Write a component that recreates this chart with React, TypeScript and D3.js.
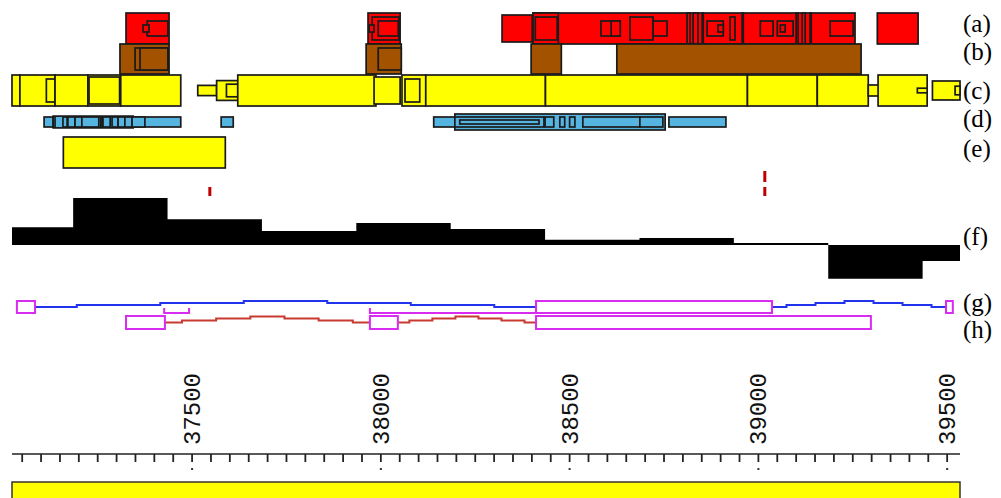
import React from "react";
import * as d3 from "d3";

// ---------- data (genomic coordinates) ----------
const DOMAIN: [number, number] = [37023, 39534];

// [start, end, nesting depth]
const TRACK_A: [number, number, number][] = [
  [37325, 37439, 0], [37381, 37436, 2], [37370, 37386, 3],
  [37966, 38051, 0], [37977, 38048, 1], [37993, 38046, 2], [37969, 37982, 3],
  [38321, 38401, 0.5],
  [38403, 39256, 0], [38403, 38470, 0], [38409, 38467, 1],
  [38583, 38634, 2], [38610, 38634, 2], [38660, 38721, 1], [38721, 38758, 2],
  [38811, 38819, 0], [38827, 38840, 0], [38851, 38854, 0],
  [38864, 38907, 2], [38893, 38907, 3], [38925, 38938, 1], [38957, 38960, 0],
  [39005, 39039, 2], [39050, 39092, 2], [39058, 39071, 3],
  [39100, 39105, 0], [39116, 39124, 0], [39137, 39140, 0], [39190, 39251, 2],
  [39315, 39423, 0],
];

const TRACK_B: [number, number, number][] = [
  [37309, 37439, 0], [37349, 37436, 1], [37362, 37436, 1],
  [37961, 38054, 0], [37993, 38054, 1],
  [38398, 38478, 0],
  [38625, 39272, 0],
];

const TRACK_C: [number, number, number][] = [
  [37023, 37044, 0], [37044, 37137, 0], [37114, 37137, 1], [37137, 37224, 0],
  [37224, 37311, 0], [37227, 37308, 0.5], [37311, 37470, 0],
  [37515, 37565, 2.6], [37565, 37621, 1.4], [37591, 37621, 2.3],
  [37621, 37987, 0], [37982, 38051, 0.5],
  [38056, 38119, 0], [38064, 38103, 1],
  [38119, 38436, 0], [38436, 38971, 0], [38971, 39156, 0], [39156, 39291, 0],
  [39291, 39341, 2.5], [39317, 39447, 0], [39421, 39447, 3.3],
  [39461, 39534, 1.5], [39521, 39534, 2.8],
];

const TRACK_D: [number, number, number][] = [
  [37108, 37470, 1], [37132, 37344, 0.7], [37132, 37137, 1],
  [37158, 37169, 1], [37171, 37190, 1], [37190, 37208, 1], [37208, 37253, 1],
  [37253, 37258, 1], [37259, 37264, 1], [37264, 37283, 1], [37288, 37304, 1],
  [37304, 37322, 1], [37322, 37341, 1], [37341, 37375, 1],
  [37577, 37609, 1],
  [38140, 38220, 1],
  [38196, 38753, 0], [38196, 38432, 1], [38209, 38419, 2],
  [38435, 38458, 1], [38474, 38487, 1], [38500, 38514, 1],
  [38535, 38686, 1], [38686, 38747, 1],
  [38763, 38914, 1],
];

const TRACK_E: [number, number, number][] = [[37159, 37588, 0]];

const MARKER_POS = [37547, 39017];
const MARKER_ROWS = [[1], [0, 1]];

const F_EDGES = [37023, 37185, 37435, 37685, 37935, 38185, 38435, 38685, 38935, 39185, 39435, 39534];
const F_VALUES = [0.38, 1.0, 0.55, 0.30, 0.47, 0.34, 0.11, 0.15, 0.04, -0.72, -0.34];

const G_EXONS: [number, number][] = [[37036, 37084], [38411, 39036], [39497, 39515]];
const G_BRACKETS: [number, number, boolean][] = [[37426, 37492, true], [37971, 38411, false]];
const H_EXONS: [number, number][] = [[37325, 37428], [37971, 38045], [38411, 39298]];

const MAJOR_TICKS = [37500, 38000, 38500, 39000, 39500];
const MINOR_STEP = 50;

const TRACK_LABELS = ["(a)", "(b)", "(c)", "(d)", "(e)", "(f)", "(g)", "(h)"];

// ---------- layout ----------
const W = 1001;
const H = 498;
const x = d3.scaleLinear().domain(DOMAIN).range([12, 960]);
const fY = d3.scaleLinear().domain([-1, 1]).range([292, 198]);

const OUTLINE = "#1a1a1a";

type Track = { data: [number, number, number][]; y0: number; y1: number; step: number; fill: string };

const TRACKS: Track[] = [
  { data: TRACK_A, y0: 13, y1: 44, step: 4, fill: "#ff0000" },
  { data: TRACK_B, y0: 44, y1: 74, step: 4, fill: "#a35200" },
  { data: TRACK_C, y0: 75, y1: 106, step: 4, fill: "#ffff00" },
  { data: TRACK_D, y0: 114, y1: 130, step: 3, fill: "#56b4e0" },
  { data: TRACK_E, y0: 137, y1: 168, step: 4, fill: "#ffff00" },
];

const LABEL_Y = [32, 60, 99, 127, 157, 245, 311, 338];

function intronPath(a: number, b: number, yc: number): string {
  const n = 6;
  const pts: [number, number][] = d3.range(n + 1).map((i) => {
    const t = i / n;
    const h = 6 * (1 - Math.abs(2 * t - 1));
    return [x(a) + (x(b) - x(a)) * t, yc - h];
  });
  return d3.line().curve(d3.curveStep)(pts) || "";
}

export default function App() {
  const stepArea = d3
    .area<number>()
    .x((_, i) => x(F_EDGES[i]))
    .y0(fY(0))
    .y1((v) => fY(v))
    .curve(d3.curveStepAfter);
  const fData = [...F_VALUES, F_VALUES[F_VALUES.length - 1]];

  const minorTicks = d3.range(37050, DOMAIN[1], MINOR_STEP);

  const gY0 = 301, gY1 = 313;
  const hY0 = 316, hY1 = 329;

  return (
    <svg
      width={W}
      height={H}
      style={{ position: "absolute", left: 0, top: 0, display: "block", background: "#fff" }}
    >
      {TRACKS.map((t, ti) => (
        <g key={ti}>
          {t.data.map(([s, e, d], i) => {
            const inset = d * t.step;
            return (
              <rect
                key={i}
                x={x(s)}
                y={t.y0 + inset}
                width={Math.max(1, x(e) - x(s))}
                height={t.y1 - t.y0 - 2 * inset}
                fill={t.fill}
                stroke={OUTLINE}
                strokeWidth={1.7}
              />
            );
          })}
        </g>
      ))}

      {MARKER_POS.map((p, i) =>
        MARKER_ROWS[i].map((r) => (
          <rect key={`${i}-${r}`} x={x(p) - 1.5} y={r === 0 ? 171 : 187} width={3} height={r === 0 ? 11 : 9} fill="#c00000" />
        ))
      )}

      <path d={stepArea(fData) || ""} fill="#000" />

      {/* gene g */}
      {G_EXONS.slice(0, -1).map((ex, i) => (
        <path key={`gi${i}`} d={intronPath(ex[1], G_EXONS[i + 1][0], (gY0 + gY1) / 2)} fill="none" stroke="#2233ee" strokeWidth={2} />
      ))}
      {G_BRACKETS.map(([s, e, both], i) => (
        <path
          key={`gb${i}`}
          d={`M${x(s)},${gY1 - 5}V${gY1}H${x(e)}${both ? `V${gY1 - 5}` : ""}`}
          fill="none"
          stroke="#d82cf0"
          strokeWidth={2}
        />
      ))}
      {G_EXONS.map(([s, e], i) => (
        <rect key={`ge${i}`} x={x(s)} y={gY0} width={x(e) - x(s)} height={gY1 - gY0} fill="#fff" stroke="#d82cf0" strokeWidth={2} />
      ))}

      {/* gene h */}
      {H_EXONS.slice(0, -1).map((ex, i) => (
        <path key={`hi${i}`} d={intronPath(ex[1], H_EXONS[i + 1][0], (hY0 + hY1) / 2)} fill="none" stroke="#c83a30" strokeWidth={2} />
      ))}
      {H_EXONS.map(([s, e], i) => (
        <rect key={`he${i}`} x={x(s)} y={hY0} width={x(e) - x(s)} height={hY1 - hY0} fill="#fff" stroke="#d82cf0" strokeWidth={2} />
      ))}

      {/* axis */}
      <line x1={x(DOMAIN[0])} x2={x(DOMAIN[1])} y1={454} y2={454} stroke="#222" strokeWidth={1.5} />
      {minorTicks.map((v) => (
        <line key={v} x1={x(v)} x2={x(v)} y1={454} y2={462} stroke="#222" strokeWidth={1.8} />
      ))}
      {MAJOR_TICKS.map((v) => (
        <g key={v}>
          <rect x={x(v) - 1} y={468} width={2} height={2} fill="#333" />
          <text
            transform={`translate(${x(v) + 8},445) rotate(-90)`}
            fontFamily="'Liberation Mono', 'DejaVu Sans Mono', monospace"
            fontSize={24}
            fill="#111"
          >
            {v}
          </text>
        </g>
      ))}

      <rect x={x(DOMAIN[0])} y={482} width={x(DOMAIN[1]) - x(DOMAIN[0])} height={20} fill="#ffff00" stroke="#333" strokeWidth={1.5} />

      {TRACK_LABELS.map((l, i) => (
        <text key={l} x={963} y={LABEL_Y[i]} fontFamily="'Liberation Serif', 'Times New Roman', serif" fontSize={25} fill="#000">
          {l}
        </text>
      ))}
    </svg>
  );
}
